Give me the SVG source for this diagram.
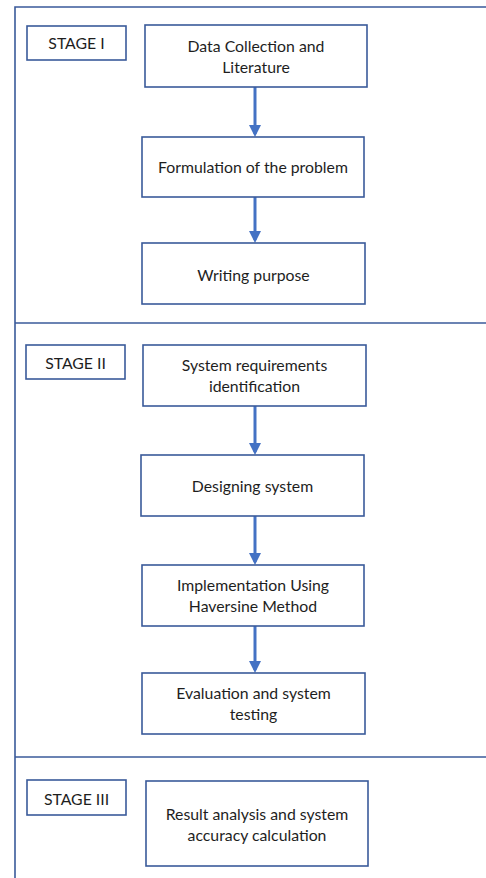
<svg xmlns="http://www.w3.org/2000/svg" width="486" height="878" viewBox="0 0 486 878">
<style>
.box{fill:#fff;stroke:#3a5a9a;stroke-width:1.6}
.frame{fill:none;stroke:#3a5a9a;stroke-width:1.6}
text{font-family:Lato,"Open Sans",sans-serif;font-size:15.8px;fill:#1e1e1e;text-anchor:middle}
.arr{stroke:#4472c4;stroke-width:3;fill:none;marker-end:url(#ah)}
</style>
<defs>
<marker id="ah" markerWidth="4" markerHeight="4" refX="3" refY="2" orient="auto" markerUnits="strokeWidth">
<path d="M0,0 L4,2 L0,4 Z" fill="#4472c4"/>
</marker>
</defs>
<rect width="486" height="878" fill="#fff"/>
<g id="frame">
<path class="frame" d="M15,878 V7 H486"/>
<path class="frame" d="M15,323 H486"/>
<path class="frame" d="M15,757 H486"/>
</g>
<g id="connectors">
<path class="arr" d="M255,87 V134"/>
<path class="arr" d="M255,197 V240"/>
<path class="arr" d="M255,406 V452"/>
<path class="arr" d="M255,516 V562"/>
<path class="arr" d="M255,626 V670"/>
</g>
<g id="stage1"><rect class="box" x="27" y="26" width="99" height="34"/><text x="76.5" y="49">STAGE I</text></g>
<g id="n1"><rect class="box" x="145" y="25" width="222" height="62"/><text x="256" y="52">Data Collection and</text><text x="256" y="73">Literature</text></g>
<g id="n2"><rect class="box" x="142" y="137" width="222" height="60"/><text x="253" y="173">Formulation of the problem</text></g>
<g id="n3"><rect class="box" x="142" y="243" width="223" height="61"/><text x="253.5" y="281">Writing purpose</text></g>
<g id="stage2"><rect class="box" x="26" y="345" width="99" height="34"/><text x="75.5" y="369">STAGE II</text></g>
<g id="n4"><rect class="box" x="143" y="345" width="223" height="61"/><text x="254.5" y="371">System requirements</text><text x="254.5" y="392">identification</text></g>
<g id="n5"><rect class="box" x="141" y="455" width="223" height="61"/><text x="252.5" y="492">Designing system</text></g>
<g id="n6"><rect class="box" x="142" y="565" width="222" height="61"/><text x="253" y="591">Implementation Using</text><text x="253" y="612">Haversine Method</text></g>
<g id="n7"><rect class="box" x="142" y="673" width="223" height="61"/><text x="253.5" y="699">Evaluation and system</text><text x="253.5" y="720">testing</text></g>
<g id="stage3"><rect class="box" x="27" y="780" width="99" height="35"/><text x="76.5" y="805">STAGE III</text></g>
<g id="n8"><rect class="box" x="146" y="781" width="222" height="85"/><text x="257" y="820">Result analysis and system</text><text x="257" y="841">accuracy calculation</text></g>
</svg>
